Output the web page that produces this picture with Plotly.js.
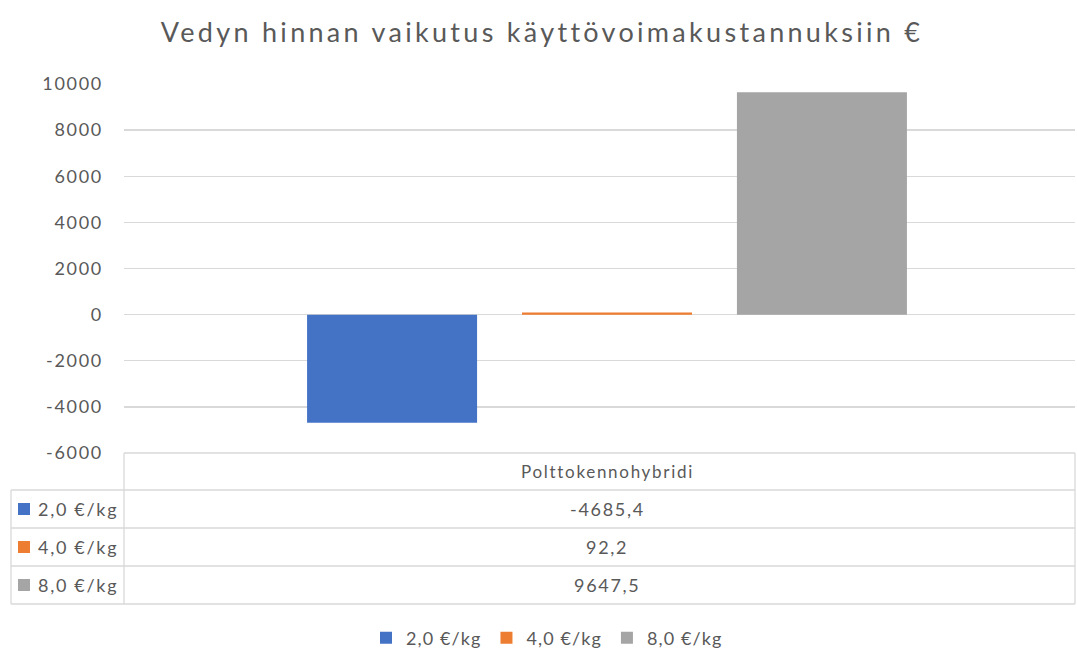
<!DOCTYPE html>
<html>
<head>
<meta charset="utf-8">
<script src="https://cdn.plot.ly/plotly-3.0.1.min.js"></script>
<style>
html,body{margin:0;padding:0;background:#fff;}
#chart{width:1077px;height:653px;}
text{letter-spacing:1.7px;}
.gtitle{letter-spacing:3.3px !important;}
.legendtext{letter-spacing:1.1px !important;}
</style>
</head>
<body>
<div id="chart"></div>
<script>
const chartTitle = "Vedyn hinnan vaikutus käyttövoimakustannuksiin €";
const categories = ["Polttokennohybridi"];
const seriesNames = ["2,0 €/kg", "4,0 €/kg", "8,0 €/kg"];
const seriesValues = [[-4685.4], [92.2], [9647.5]];
const seriesColors = ["#4472C4", "#ED7D31", "#A5A5A5"];
const yTicks = [-6000, -4000, -2000, 0, 2000, 4000, 6000, 8000, 10000];

const W = 1077, H = 653;
const L = 124, R = 1075, T = 84, B = 453;
const FONT = "Lato, 'Open Sans', sans-serif";
const TXT = "#595959";
const GRID = "#D9D9D9";

function px2x(px){ return (px - L) / (R - L); }
function py2y(py){ return (B - py) / (B - T); }
function fmt(v){ return v.toFixed(1).replace('.', ','); }

const traces = seriesNames.map((n, i) => ({
  type: 'bar',
  name: n,
  x: categories.map((c, j) => j),
  y: seriesValues[i],
  marker: {color: seriesColors[i]},
  hoverinfo: 'none'
}));

const rowLines = [490, 528, 566, 604];
const shapes = [];
const lineStyle = {color: GRID, width: 1.3};
shapes.push({type:'line', xref:'paper', yref:'paper', x0:px2x(L), x1:px2x(R), y0:py2y(B), y1:py2y(B), line:lineStyle});
rowLines.forEach(yy => {
  shapes.push({type:'line', xref:'paper', yref:'paper', x0:px2x(11), x1:px2x(R), y0:py2y(yy), y1:py2y(yy), line:lineStyle});
});
shapes.push({type:'line', xref:'paper', yref:'paper', x0:px2x(L), x1:px2x(L), y0:py2y(B), y1:py2y(604), line:lineStyle});
shapes.push({type:'line', xref:'paper', yref:'paper', x0:px2x(11), x1:px2x(11), y0:py2y(490), y1:py2y(604), line:lineStyle});
shapes.push({type:'line', xref:'paper', yref:'paper', x0:px2x(R), x1:px2x(R), y0:py2y(B), y1:py2y(604), line:lineStyle});

const annotations = [];
const tableCenter = 607;
categories.forEach((c) => {
  annotations.push({xref:'paper', yref:'paper', x:px2x(tableCenter), y:py2y(471), text:c, showarrow:false,
    xanchor:'center', yanchor:'middle', font:{family:FONT, size:17, color:TXT}});
});
seriesNames.forEach((n, i) => {
  const cy = (rowLines[i] + rowLines[i+1]) / 2;
  shapes.push({type:'rect', xref:'paper', yref:'paper', x0:px2x(18), x1:px2x(30), y0:py2y(cy-6), y1:py2y(cy+6),
    fillcolor:seriesColors[i], line:{width:0}});
  annotations.push({xref:'paper', yref:'paper', x:px2x(36), y:py2y(cy), text:n, showarrow:false,
    xanchor:'left', yanchor:'middle', font:{family:FONT, size:18, color:TXT}});
  annotations.push({xref:'paper', yref:'paper', x:px2x(tableCenter), y:py2y(cy), text:fmt(seriesValues[i][0]), showarrow:false,
    xanchor:'center', yanchor:'middle', font:{family:FONT, size:18, color:TXT}});
});

const layout = {
  width: W, height: H,
  margin: {l: L, r: W - R, t: T, b: H - B, pad: 0, autoexpand: false},
  paper_bgcolor: '#fff', plot_bgcolor: '#fff',
  font: {family: FONT, color: TXT},
  title: {text: chartTitle, x: 542/W, xref: 'container', xanchor: 'center', y: 1 - 33/H, yref:'container', yanchor:'middle',
    font: {family: FONT, size: 27, color: TXT}},
  barmode: 'group',
  bargap: 0.322,
  bargroupgap: 0.209,
  xaxis: {range: [-(tableCenter - L)/(R - L), (R - tableCenter)/(R - L)], showticklabels: false, showgrid: false,
    zeroline: false, showline: false, ticks: '', fixedrange: true},
  yaxis: {range: [-6000, 10000], tickvals: yTicks, ticktext: yTicks.map(String), showgrid: true, gridcolor: GRID, gridwidth: 1.3,
    zeroline: true, zerolinecolor: GRID, zerolinewidth: 1.3, showline: false, ticks: '', automargin: false,
    tickfont: {family: FONT, size: 18, color: TXT}, ticklabelstandoff: 20},
  legend: {orientation: 'h', x: px2x(547), xanchor: 'center', y: py2y(638), yanchor: 'middle',
    font: {family: FONT, size: 18, color: TXT}, itemwidth: 30, tracegroupgap: 0},
  shapes: shapes,
  annotations: annotations,
  showlegend: true
};

Plotly.newPlot('chart', traces, layout, {displayModeBar: false, staticPlot: true});
</script>
</body>
</html>
